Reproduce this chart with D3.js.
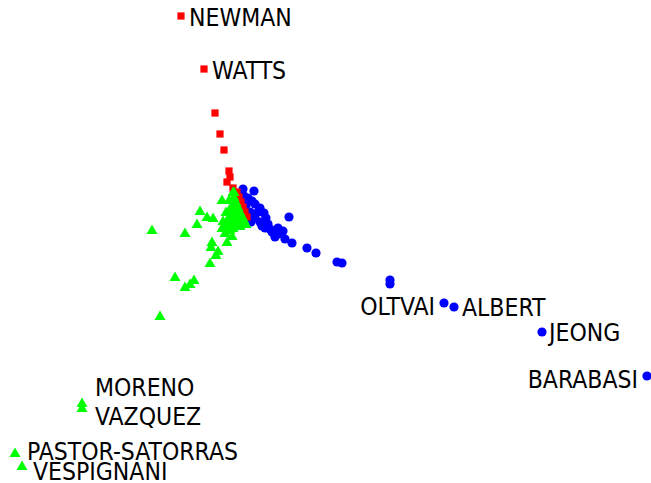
<!DOCTYPE html>
<html><head><meta charset="utf-8">
<script src="https://cdn.jsdelivr.net/npm/d3@7"></script>
<style>
html,body{margin:0;padding:0;background:#fff;}
svg{display:block;}
text{font-family:"DejaVu Sans Condensed","DejaVu Sans",sans-serif;font-stretch:condensed;font-size:24.5px;fill:#000;}
</style></head>
<body>
<script>
// Embedding coordinates (dim1, dim2) per group
const redX = [-0.54,-0.31,-0.20,-0.15,-0.11,-0.06,-0.08,-0.02,-0.05,0.02,0.04,0.06,0.08,0.10,0.12,0.01,0.03];
const redY = [1.94,1.41,0.97,0.76,0.60,0.39,0.28,0.22,0.33,0.18,0.13,0.08,0.03,-0.02,-0.07,0.14,0.08];
const redNames = ["NEWMAN","WATTS","","","","","","","","","","","","","","",""];

const blueX = [0.08,0.19,0.17,0.13,0.23,0.29,0.54,0.48,0.37,0.40,0.50,0.57,0.30,0.72,0.81,1.02,1.07,1.55,1.55,2.09,2.19,3.07,4.12,
  0.11,0.15,0.20,0.25,0.27,0.33,0.35,0.43,0.43,0.16,0.12,0.25,0.20,0.31,0.09];
const blueY = [0.21,0.19,0.09,0.12,-0.02,-0.03,-0.07,-0.21,-0.22,-0.27,-0.29,-0.33,-0.18,-0.38,-0.43,-0.52,-0.53,-0.70,-0.74,-0.93,-0.97,-1.22,-1.66,
  0.05,-0.02,-0.08,-0.12,-0.16,-0.14,-0.19,-0.24,-0.18,-0.12,-0.06,0.02,0.06,-0.08,0.14];
const blueNames = ["","","","","","","","","","","","","","","","","","","","OLTVAI","ALBERT","JEONG","BARABASI",
  "","","","","","","","","","","","","","",""];

const greenX = [-0.83,-0.50,-0.35,-0.38,-0.28,-0.22,-0.13,-0.12,-0.13,-0.08,-0.05,-0.03,-0.08,-0.23,-0.24,-0.17,-0.19,-0.25,-0.60,-0.41,-0.45,-0.50,-0.75,
  0.00,0.03,0.06,0.09,0.01,-0.03,0.01,-0.02,-0.05,-0.09,-0.02,-0.06,-0.01,0.04,-0.10,
  -0.02,-0.01,0.01,0.03,0.05,0.07,0.09,0.11,-0.03,-0.01,0.01,0.03,-0.05,-0.07,-0.03,0.05,-0.06,
  -1.53,-1.53,-2.20,-2.13];
const greenY = [-0.20,-0.23,-0.01,-0.14,-0.07,-0.08,0.10,-0.11,-0.18,-0.14,-0.20,-0.26,-0.32,-0.32,-0.37,-0.41,-0.45,-0.53,-0.67,-0.70,-0.74,-0.77,-1.06,
  0.00,-0.04,-0.09,-0.13,-0.10,-0.12,0.06,0.12,-0.05,-0.02,-0.18,-0.16,0.18,-0.15,-0.23,
  0.18,0.13,0.08,0.03,-0.02,-0.06,-0.10,-0.14,0.05,-0.02,-0.08,-0.13,0.00,-0.10,-0.16,-0.16,0.10,
  -1.93,-1.98,-2.43,-2.56];
const greenNames = greenX.map((v,i)=>["MORENO","VAZQUEZ","PASTOR-SATORRAS","VESPIGNANI"][i-(greenX.length-4)] || "");

// label placement (offsets in px, anchor)
const labelPlacement = {
  "NEWMAN":[8,1,"start"], "WATTS":[8,1,"start"],
  "OLTVAI":[-9,3,"end"], "ALBERT":[8,0,"start"], "JEONG":[7,0,"start"], "BARABASI":[-9,3,"end"],
  "MORENO":[13,-16,"start"], "VAZQUEZ":[13,8,"start"],
  "PASTOR-SATORRAS":[12,-2,"start"], "VESPIGNANI":[11,5,"start"]
};

const W = 651, H = 483;
const x = d3.scaleLinear().domain([-2.35, 4.16]).range([0, W]);
const y = d3.scaleLinear().domain([2.10, -2.73]).range([0, H]);

const svg = d3.select("body").append("svg").attr("width", W).attr("height", H);

function pts(xs, ys, names){ return xs.map((v,i)=>({x:v,y:ys[i],name:names[i]})); }
const blue = pts(blueX, blueY, blueNames);
const red = pts(redX, redY, redNames);
const green = pts(greenX, greenY, greenNames);

svg.append("g").selectAll("circle").data(blue).join("circle")
  .attr("cx", d=>x(d.x)).attr("cy", d=>y(d.y)).attr("r", 4.6).attr("fill", "#0000ff");

svg.append("g").selectAll("path").data(red).join("path")
  .attr("transform", d=>`translate(${x(d.x)},${y(d.y)})`)
  .attr("d", d3.symbol(d3.symbolSquare, 52)).attr("fill", "#ff0000");

const tri = "M0,-5.5L5.5,4L-5.5,4Z";
svg.append("g").selectAll("path").data(green).join("path")
  .attr("transform", d=>`translate(${x(d.x)},${y(d.y)})`)
  .attr("d", tri).attr("fill", "#00ff00");

const labeled = [...red, ...blue, ...green].filter(d=>d.name);
svg.append("g").selectAll("text").data(labeled).join("text")
  .attr("x", d=>x(d.x) + labelPlacement[d.name][0])
  .attr("y", d=>y(d.y) + labelPlacement[d.name][1])
  .attr("dy", "0.36em")
  .attr("text-anchor", d=>labelPlacement[d.name][2])
  .text(d=>d.name);
</script>
</body></html>
